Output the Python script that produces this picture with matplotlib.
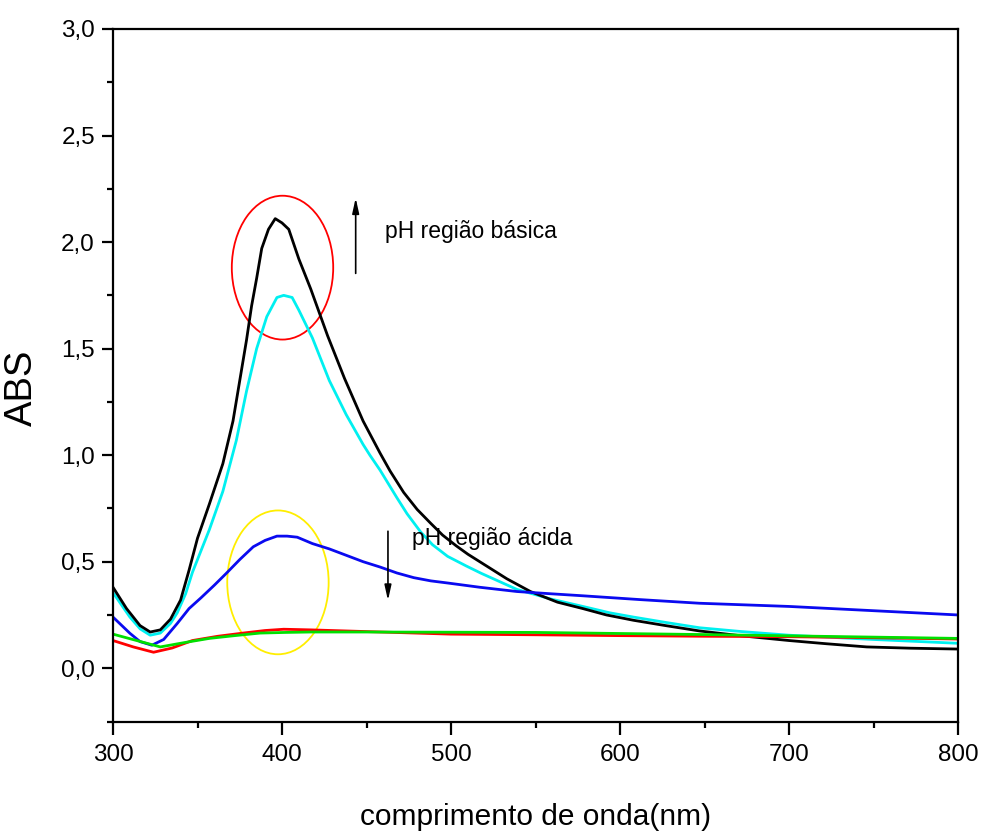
import matplotlib
matplotlib.use('Agg')
import matplotlib.pyplot as plt
from matplotlib.patches import Ellipse
from matplotlib.ticker import MultipleLocator, FuncFormatter

plt.rcParams['font.family'] = ['Liberation Sans', 'DejaVu Sans']

# absorbance spectra (wavelength nm, ABS)
black_x = [300, 308, 316, 322, 328, 334, 340, 345, 350, 357, 365, 371, 375, 379, 382, 385,
           388, 392, 396, 400, 404, 410, 417, 427, 437, 448, 458, 464, 472, 480, 488, 495,
           503, 510, 519, 533, 547, 563, 578, 592, 608, 627, 647, 672, 700, 722, 746, 772, 800]
black_y = [0.38, 0.28, 0.20, 0.17, 0.18, 0.23, 0.32, 0.46, 0.61, 0.77, 0.96, 1.16, 1.35, 1.54,
           1.70, 1.83, 1.97, 2.06, 2.11, 2.09, 2.06, 1.92, 1.78, 1.56, 1.36, 1.16, 1.01, 0.925,
           0.825, 0.745, 0.68, 0.625, 0.575, 0.535, 0.49, 0.42, 0.36, 0.31, 0.28, 0.25, 0.225,
           0.20, 0.175, 0.152, 0.13, 0.115, 0.10, 0.094, 0.09]

cyan_x = [300, 310, 316, 322, 328, 334, 338, 343, 347, 352, 357, 365, 373, 379, 385, 391,
          397, 401, 406, 410, 418, 428, 438, 448, 452, 458, 468, 474, 482, 489, 498, 509,
          518, 539, 559, 578, 594, 608, 627, 647, 672, 700, 750, 800]
cyan_y = [0.355, 0.24, 0.185, 0.155, 0.165, 0.21, 0.26, 0.35, 0.45, 0.55, 0.65, 0.83, 1.07,
          1.30, 1.50, 1.65, 1.74, 1.75, 1.74, 1.68, 1.55, 1.35, 1.19, 1.05, 1.00, 0.93, 0.80,
          0.725, 0.64, 0.58, 0.525, 0.48, 0.445, 0.37, 0.325, 0.29, 0.26, 0.24, 0.215, 0.19,
          0.172, 0.155, 0.135, 0.117]

blue_x = [300, 310, 316, 323, 330, 338, 345, 352, 360, 367, 375, 383, 390, 397, 403, 409,
          418, 428, 438, 448, 458, 468, 478, 488, 498, 517, 539, 558, 578, 612, 647, 700, 750, 800]
blue_y = [0.24, 0.164, 0.125, 0.108, 0.135, 0.21, 0.28, 0.33, 0.39, 0.445, 0.51, 0.57, 0.60,
          0.62, 0.62, 0.615, 0.585, 0.56, 0.53, 0.50, 0.475, 0.447, 0.425, 0.41, 0.40, 0.38,
          0.36, 0.35, 0.34, 0.322, 0.305, 0.29, 0.27, 0.25]

red_x = [300, 312, 324, 335, 347, 362, 377, 390, 401, 417, 450, 500, 550, 600, 650, 700, 750, 800]
red_y = [0.13, 0.10, 0.075, 0.095, 0.13, 0.15, 0.165, 0.177, 0.183, 0.18, 0.172, 0.16, 0.157,
         0.153, 0.15, 0.148, 0.143, 0.137]

green_x = [300, 314, 328, 342, 357, 372, 387, 402, 417, 450, 500, 550, 600, 650, 700, 750, 800]
green_y = [0.16, 0.13, 0.10, 0.12, 0.14, 0.153, 0.165, 0.168, 0.17, 0.17, 0.169, 0.168, 0.163,
           0.158, 0.152, 0.146, 0.14]

# annotation marks (ellipse centre x, y, width nm, height ABS)
RED_ELL = (400.3, 1.88, 60, 0.675)
YEL_ELL = (397.6, 0.403, 60, 0.675)

fig = plt.figure(figsize=(9.81, 8.32), dpi=100)
ax = fig.add_axes([113/981, 1 - 721.5/832, 845/981, 692.5/832])

ax.plot(cyan_x, cyan_y, color='#00f0f0', lw=2)
ax.plot(black_x, black_y, color='black', lw=2)
ax.plot(blue_x, blue_y, color='#0a0af0', lw=2)
ax.plot(red_x, red_y, color='#ff0000', lw=2)
ax.plot(green_x, green_y, color='#00e000', lw=2)

for (cx, cy, w, h), col in [(RED_ELL, 'red'), (YEL_ELL, '#ffee00')]:
    ax.add_patch(Ellipse((cx, cy), w, h, fill=False, edgecolor=col, lw=1.3))

arrow = dict(arrowstyle='-|>,head_length=0.9,head_width=0.2', color='black', lw=1.2)
ax.annotate('', xy=(443.6, 2.22), xytext=(443.6, 1.84), arrowprops=arrow)
ax.annotate('', xy=(462.7, 0.305), xytext=(462.7, 0.656), arrowprops=arrow)

ax.text(461, 2.05, 'pH região básica', fontsize=16.5, va='center', ha='left')
ax.text(477, 0.61, 'pH região ácida', fontsize=16.5, va='center', ha='left')

ax.set_xlim(300, 800)
ax.set_ylim(-0.25, 3.0)
ax.xaxis.set_major_locator(MultipleLocator(100))
ax.xaxis.set_minor_locator(MultipleLocator(50))
ax.yaxis.set_major_locator(MultipleLocator(0.5))
ax.yaxis.set_minor_locator(MultipleLocator(0.25))
ax.yaxis.set_major_formatter(FuncFormatter(lambda v, p: f'{v:.1f}'.replace('.', ',')))

ax.tick_params(which='both', direction='out', width=1.6, top=False, right=False, labelsize=17.5)
ax.tick_params(axis='x', which='major', length=9.5, pad=7)
ax.tick_params(axis='y', which='major', length=8, pad=5)
ax.tick_params(which='minor', length=4.5)
for s in ax.spines.values():
    s.set_linewidth(1.6)

ax.set_xlabel('comprimento de onda(nm)', fontsize=21.5, labelpad=26)
ax.set_ylabel('ABS', fontsize=27.5)
ax.yaxis.set_label_coords(-0.087, 0.482)

fig.savefig('out.png', dpi=100)
